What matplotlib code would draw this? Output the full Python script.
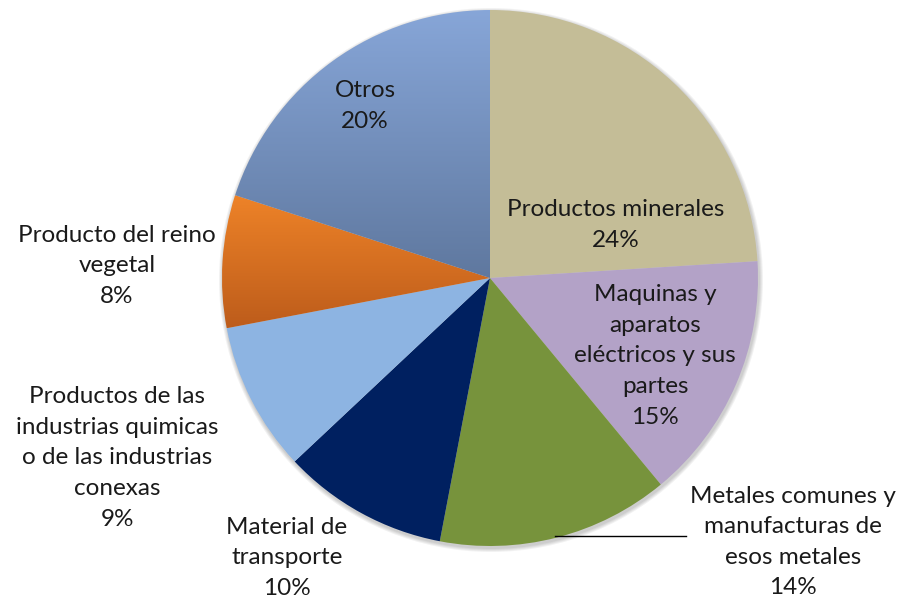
import numpy as np
import matplotlib
matplotlib.use("Agg")
import matplotlib.pyplot as plt
from matplotlib.colors import LinearSegmentedColormap
from matplotlib.patches import Circle

plt.rcParams['font.family'] = ['Lato', 'DejaVu Sans']

categories = ["Productos minerales",
              "Maquinas y\naparatos\neléctricos y sus\npartes",
              "Metales comunes y\nmanufacturas de\nesos metales",
              "Material de\ntransporte",
              "Productos de las\nindustrias quimicas\no de las industrias\nconexas",
              "Producto del reino\nvegetal",
              "Otros"]
values = [24, 15, 14, 10, 9, 8, 20]
colors = ["#C4BD97", "#B3A2C7", "#77933C", "#002060", "#8DB4E2", "#E37B22", "#7B96C2"]
gradients = {5: ("#EE8328", "#BD5C1B"), 6: ("#87A6D8", "#5F789F")}

# label centres (pixels from top-left)
label_pos = [(616, 225), (655, 356), (793, 542), (287, 558), (117, 458), (117, 266), (365, 106)]

W, H = 900, 603
fig = plt.figure(figsize=(9, 6.03), dpi=100)
ax = fig.add_axes([0, 0, 1, 1])
ax.set_xlim(0, W)
ax.set_ylim(0, H)
ax.axis('off')

cx, cy, R = 490, H - 278, 268

# subtle shadow
for i, a in enumerate([0.05, 0.05, 0.05, 0.05]):
    ax.add_patch(Circle((cx + 1, cy - 2), R + 1 + i, color='black', alpha=a, lw=0, zorder=0))

wedges, _ = ax.pie(values, colors=colors, startangle=90, counterclock=False,
                   center=(cx, cy), radius=R, frame=True,
                   wedgeprops=dict(linewidth=0))
ax.set_xlim(0, W)
ax.set_ylim(0, H)
ax.axis('off')

for idx, (c1, c2) in gradients.items():
    w = wedges[idx]
    w.set_facecolor('none')
    cmap = LinearSegmentedColormap.from_list('g', [c2, c1])
    grad = np.linspace(0, 1, 256).reshape(-1, 1)
    th1, th2 = np.radians(w.theta1), np.radians(w.theta2)
    ts = np.linspace(th1, th2, 50)
    ys = np.concatenate([[cy], cy + R * np.sin(ts)])
    ymin, ymax = ys.min(), ys.max()
    im = ax.imshow(grad, cmap=cmap, origin='lower', aspect='auto',
                   extent=(cx - R, cx + R, ymin, ymax), zorder=1.5)
    im.set_clip_path(w)

fs = 17.5
tc = "#1a1a1a"
for i, (lab, v) in enumerate(zip(categories, values)):
    x, y = label_pos[i]
    ax.text(x, H - y, f"{lab}\n{v}%", ha='center', va='center', fontsize=fs,
            color=tc, linespacing=1.56, zorder=5)

# leader line for Metales label
ax.plot([555, 686], [H - 536, H - 536], color='black', lw=1, zorder=4)

fig.savefig("out.png", dpi=100)
